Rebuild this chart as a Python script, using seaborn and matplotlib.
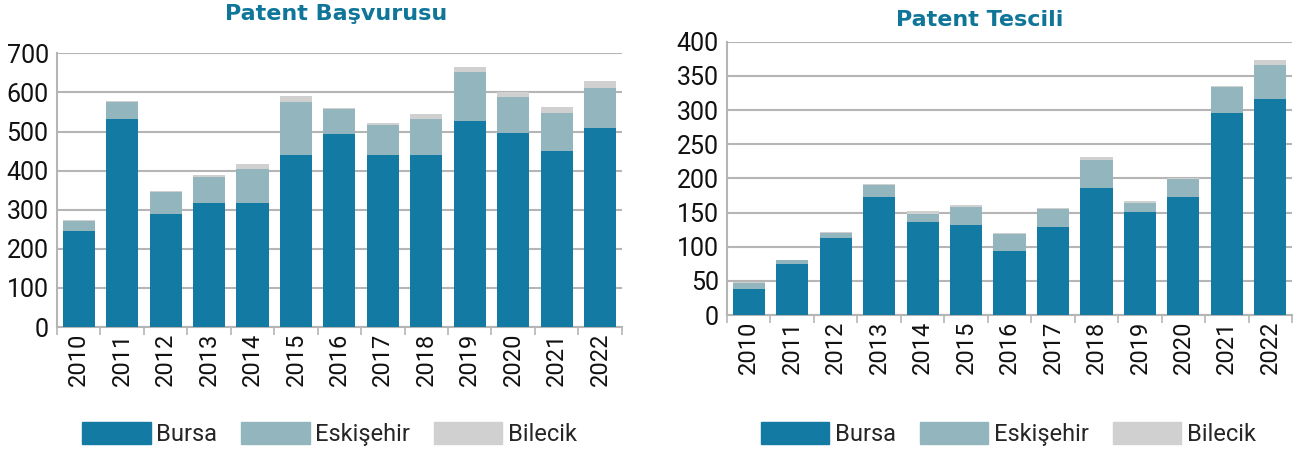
import matplotlib
matplotlib.use("Agg")
import matplotlib.pyplot as plt
import matplotlib.patches as mpatches
from matplotlib.ticker import FixedLocator
import numpy as np
import pandas as pd
import seaborn as sns

# Data
years = ["2010", "2011", "2012", "2013", "2014", "2015", "2016",
         "2017", "2018", "2019", "2020", "2021", "2022"]

basvuru_bursa = [245, 532, 289, 317, 317, 440, 494, 440, 440, 527, 496, 450, 509]
basvuru_eskisehir = [26, 43, 56, 66, 87, 135, 64, 77, 92, 125, 92, 97, 102]
basvuru_bilecik = [2, 3, 3, 6, 13, 15, 2, 5, 13, 13, 12, 16, 18]

tescil_bursa = [38, 75, 113, 173, 136, 132, 94, 129, 186, 151, 173, 296, 316]
tescil_eskisehir = [9, 5, 7, 17, 12, 26, 24, 26, 41, 13, 26, 38, 50]
tescil_bilecik = [2, 1, 2, 2, 4, 3, 2, 1, 4, 3, 1, 1, 7]

series_names = ["Bursa", "Eskişehir", "Bilecik"]
colors = ["#127aa3", "#93b5bd", "#d0d0d0"]
title_color = "#0f7699"
grid_color = "#b5b5b5"

sns.set_theme(style="white")
plt.rcParams["font.family"] = ["Roboto", "DejaVu Sans"]


def draw_stacked(ax, bursa, eskisehir, bilecik, ymax, ystep):
    df = pd.DataFrame({"Yıl": years, "Bursa": bursa,
                       "Eskişehir": eskisehir, "Bilecik": bilecik})
    df["c1"] = df["Bursa"]
    df["c2"] = df["c1"] + df["Eskişehir"]
    df["c3"] = df["c2"] + df["Bilecik"]
    # draw tallest first so the lower segments sit on top
    for col, color in zip(["c3", "c2", "c1"], colors[::-1]):
        sns.barplot(data=df, x="Yıl", y=col, color=color, width=0.74,
                    saturation=1, linewidth=0, ax=ax, zorder=3)
    ax.set_xlim(-0.5, len(years) - 0.5)
    ax.set_ylim(0, ymax)
    ax.set_yticks(np.arange(0, ymax + 1, ystep))
    ax.yaxis.grid(True, color=grid_color, linewidth=1.5, zorder=0)
    ax.set_axisbelow(True)
    ax.set_xlabel("")
    ax.set_ylabel("")
    for side in ["top", "right"]:
        ax.spines[side].set_visible(False)
    for side in ["left", "bottom"]:
        ax.spines[side].set_color(grid_color)
        ax.spines[side].set_linewidth(1.5)
    ax.tick_params(axis="y", length=0, labelsize=18, pad=6, colors="#111111")
    ax.tick_params(axis="x", which="major", length=0, labelsize=17,
                   labelrotation=90, pad=4, colors="#111111")
    ax.xaxis.set_minor_locator(FixedLocator(np.arange(-0.5, len(years), 1.0)))
    ax.tick_params(axis="x", which="minor", length=6, width=1.2,
                   color=grid_color, bottom=True)


fig = plt.figure(figsize=(12.98, 4.53), dpi=100)
ax1 = fig.add_axes([0.0439, 0.2781, 0.4351, 0.6042])
ax2 = fig.add_axes([0.5601, 0.3046, 0.4353, 0.6034])

draw_stacked(ax1, basvuru_bursa, basvuru_eskisehir, basvuru_bilecik, 700, 100)
draw_stacked(ax2, tescil_bursa, tescil_eskisehir, tescil_bilecik, 400, 50)

fig.text(0.259, 0.968, "Patent Başvurusu", ha="center", va="center",
         fontsize=16, fontweight="bold", color=title_color,
         family=["DejaVu Sans"])
fig.text(0.755, 0.955, "Patent Tescili", ha="center", va="center",
         fontsize=16, fontweight="bold", color=title_color,
         family=["DejaVu Sans"])

handles = [mpatches.Patch(color=c, label=n) for c, n in zip(colors, series_names)]
for cx in [0.254, 0.777]:
    fig.legend(handles=handles, loc="center", bbox_to_anchor=(cx, 0.042),
               ncol=3, frameon=False, fontsize=17, handlelength=2.9,
               handleheight=1.1, handletextpad=0.25, columnspacing=1.0)

fig.savefig("out.png", dpi=100)
plt.close(fig)
